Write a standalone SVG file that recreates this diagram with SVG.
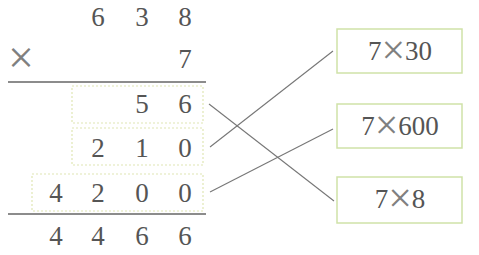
<svg xmlns="http://www.w3.org/2000/svg" width="479" height="255" viewBox="0 0 479 255">
<style>
.d{font-family:"Liberation Serif","Times New Roman",serif;font-size:27px;fill:#555;text-anchor:middle}
.x{font-size:42px;fill:#808080}
.rule{stroke:#666;stroke-width:1.3}
.dash{fill:none;stroke:#dfe6b4;stroke-width:1.2;stroke-dasharray:2 2}
.box{fill:#fff;stroke:#cfe2a8;stroke-width:1.5}
.con{stroke:#777;stroke-width:1.1;fill:none}
</style>
<rect width="479" height="255" fill="#fff"/>
<g id="calc">
<text class="d" x="21" y="73"><tspan class="x" style="font-size:46px">×</tspan></text>
<text class="d" x="98" y="26">6</text>
<text class="d" x="142" y="26">3</text>
<text class="d" x="185" y="26">8</text>
<text class="d" x="185" y="68">7</text>
<line class="rule" x1="8" y1="82" x2="206" y2="82"/>
<line class="rule" x1="8" y1="214" x2="206" y2="214"/>
<text class="d" x="56" y="245">4</text>
<text class="d" x="98" y="245">4</text>
<text class="d" x="142" y="245">6</text>
<text class="d" x="185" y="245">6</text>
</g>
<g id="p56">
<rect class="dash" x="72" y="86" width="131" height="37"/>
<text class="d" x="142" y="113">5</text>
<text class="d" x="185" y="113">6</text>
</g>
<g id="p210">
<rect class="dash" x="72" y="128" width="131" height="37"/>
<text class="d" x="98" y="157">2</text>
<text class="d" x="142" y="157">1</text>
<text class="d" x="185" y="157">0</text>
</g>
<g id="p4200">
<rect class="dash" x="32" y="174" width="171" height="37"/>
<text class="d" x="56" y="202">4</text>
<text class="d" x="98" y="202">2</text>
<text class="d" x="142" y="202">0</text>
<text class="d" x="185" y="202">0</text>
</g>
<g id="connectors">
<line class="con" x1="209" y1="104" x2="334" y2="201"/>
<line class="con" x1="210" y1="147" x2="333" y2="51"/>
<line class="con" x1="210" y1="192" x2="333" y2="129"/>
</g>
<g id="b730">
<rect class="box" x="337" y="29" width="125" height="44"/>
<text class="d" x="400" y="60">7<tspan class="x" dy="4">×</tspan><tspan dy="-4">30</tspan></text>
</g>
<g id="b7600">
<rect class="box" x="337" y="104" width="125" height="44"/>
<text class="d" x="400" y="135">7<tspan class="x" dy="4">×</tspan><tspan dy="-4">600</tspan></text>
</g>
<g id="b78">
<rect class="box" x="337" y="177" width="125" height="46"/>
<text class="d" x="400" y="208">7<tspan class="x" dy="4">×</tspan><tspan dy="-4">8</tspan></text>
</g>
</svg>
